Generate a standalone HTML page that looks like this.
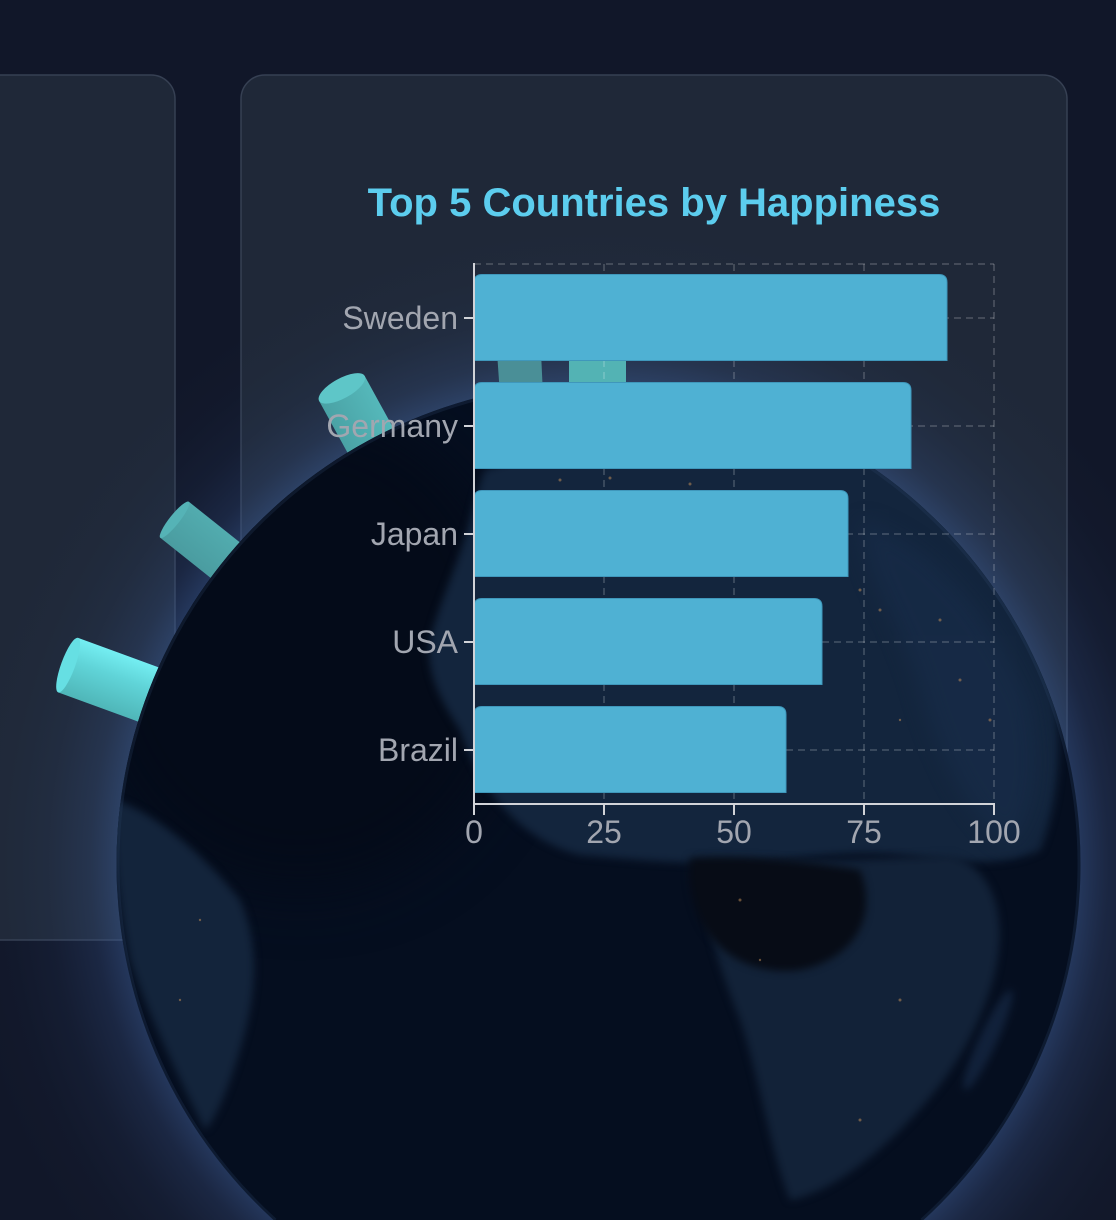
<!DOCTYPE html>
<html><head><meta charset="utf-8">
<style>
html,body{margin:0;padding:0;background:#111729;width:1116px;height:1220px;overflow:hidden;}
svg{display:block}
</style></head>
<body>
<svg width="1116" height="1220" viewBox="0 0 1116 1220" xmlns="http://www.w3.org/2000/svg">
<defs>
  <radialGradient id="glow" cx="598.5" cy="864" r="640" gradientUnits="userSpaceOnUse">
    <stop offset="0.74" stop-color="#3e62a0" stop-opacity="0.5"/>
    <stop offset="0.753" stop-color="#3e62a0" stop-opacity="0.42"/>
    <stop offset="0.795" stop-color="#3a5a95" stop-opacity="0.24"/>
    <stop offset="0.86" stop-color="#36548a" stop-opacity="0.1"/>
    <stop offset="0.93" stop-color="#34507f" stop-opacity="0.03"/>
    <stop offset="1" stop-color="#34507f" stop-opacity="0"/>
  </radialGradient>
  <clipPath id="gc"><path d="M273.5,1220 A482,482 0 1 1 923.5,1220 Z"/></clipPath>
  <filter id="b4" x="-30%" y="-30%" width="160%" height="160%" color-interpolation-filters="sRGB"><feGaussianBlur stdDeviation="4"/></filter>
  <filter id="b10" x="-30%" y="-30%" width="160%" height="160%" color-interpolation-filters="sRGB"><feGaussianBlur stdDeviation="10"/></filter>
  <filter id="b30" x="-50%" y="-50%" width="200%" height="200%" color-interpolation-filters="sRGB"><feGaussianBlur stdDeviation="30"/></filter>
  <linearGradient id="c1" x1="0" y1="0" x2="0" y2="1">
    <stop offset="0" stop-color="#4fb6b8"/>
    <stop offset="0.6" stop-color="#60d4d8"/>
    <stop offset="1" stop-color="#74eef2"/>
  </linearGradient>
  <linearGradient id="c2" x1="0" y1="0" x2="0" y2="1">
    <stop offset="0" stop-color="#4a9ca0"/>
    <stop offset="1" stop-color="#52acaf"/>
  </linearGradient>
  <linearGradient id="c3" x1="0" y1="0" x2="0" y2="1">
    <stop offset="0" stop-color="#4aa2a5"/>
    <stop offset="1" stop-color="#55b8ba"/>
  </linearGradient>
</defs>

<rect x="0" y="0" width="1116" height="1220" fill="#111729"/>

<rect x="-40" y="75" width="215" height="865" rx="24" fill="#1f2838" stroke="#364053" stroke-width="1.5"/>
<rect x="241" y="75" width="826" height="865" rx="24" fill="#1f2838" stroke="#364053" stroke-width="1.5"/>

<rect x="0" y="0" width="1116" height="1220" fill="url(#glow)"/>

<g transform="translate(147,694) rotate(200.1)">
  <rect x="-12" y="-29" width="96" height="58" fill="url(#c1)"/>
  <ellipse cx="84" cy="0" rx="7" ry="29" fill="#66dfe3"/>
</g>
<g transform="translate(227,561.5) rotate(218.5)">
  <rect x="-12" y="-23" width="79" height="46" fill="url(#c2)"/>
  <ellipse cx="67" cy="0" rx="5" ry="23" fill="#55b3b6"/>
</g>
<g transform="translate(376.5,451.5) rotate(241.25)">
  <rect x="-12" y="-26" width="84" height="52" fill="url(#c3)"/>
  <ellipse cx="72" cy="0" rx="10" ry="26" fill="#5ec6c8"/>
</g>
<polygon points="497,352 541,352 543,395 500,395" fill="#4a8f97"/>
<rect x="569" y="352" width="57" height="40" fill="#53b3b4"/>

<g clip-path="url(#gc)">
  <rect x="110" y="375" width="980" height="850" fill="#050e1f"/>
  <ellipse cx="300" cy="650" rx="220" ry="240" fill="#040b19" filter="url(#b30)"/>
  <path d="M485,470 C560,440 700,420 840,450 C940,480 1020,560 1050,660 C1065,740 1060,800 1040,850 C1000,870 950,860 900,855 C850,850 800,858 760,862 C700,866 640,860 580,855 C520,840 480,790 460,730 C440,700 425,670 430,640 C440,600 460,560 470,520 C475,500 480,480 485,470 Z" fill="#13253d" filter="url(#b4)"/>
  <path d="M860,520 C930,540 990,610 1030,700 C1045,770 1035,820 1010,845 C970,820 940,760 920,690 C900,620 860,570 860,520 Z" fill="#172b47" opacity="0.8" filter="url(#b10)"/>
  <path d="M700,858 C760,860 850,862 950,855 C1000,870 1010,930 990,990 C970,1050 940,1090 900,1130 C860,1170 820,1195 790,1200 C770,1150 760,1080 740,1020 C720,970 700,910 700,858 Z" fill="#122238" filter="url(#b4)"/>
  <path d="M690,858 C740,855 800,860 860,870 C880,920 850,960 800,970 C760,975 720,960 700,920 C690,895 688,875 690,858 Z" fill="#070c16" filter="url(#b4)"/>
  <ellipse cx="988" cy="1040" rx="9" ry="55" transform="rotate(25 988 1040)" fill="#11213a" filter="url(#b4)"/>
  <path d="M114,800 C150,810 200,850 240,900 C262,950 255,1000 240,1050 C228,1090 215,1120 205,1130 C180,1080 150,1020 130,960 C118,900 112,850 114,800 Z" fill="#13243b" filter="url(#b4)"/>
  <g fill="#c9935a" opacity="0.5">
    <circle cx="560" cy="480" r="1.5"/><circle cx="610" cy="478" r="1.5"/><circle cx="690" cy="484" r="1.5"/>
    <circle cx="860" cy="590" r="1.5"/><circle cx="880" cy="610" r="1.5"/><circle cx="940" cy="620" r="1.5"/>
    <circle cx="960" cy="680" r="1.5"/><circle cx="990" cy="720" r="1.5"/><circle cx="900" cy="720" r="1.2"/>
    <circle cx="740" cy="900" r="1.5"/><circle cx="760" cy="960" r="1.2"/><circle cx="900" cy="1000" r="1.5"/>
    <circle cx="860" cy="1120" r="1.5"/><circle cx="180" cy="1000" r="1.2"/><circle cx="200" cy="920" r="1.2"/>
  </g>
</g>
<path d="M275.5,1220 A480.5,480.5 0 1 1 921.5,1220" fill="none" stroke="#2a4268" stroke-opacity="0.25" stroke-width="3"/>

<g stroke="#ffffff" stroke-opacity="0.16" stroke-width="2" stroke-dasharray="7 5" fill="none">
  <line x1="474" y1="264" x2="994" y2="264"/>
  <line x1="474" y1="318" x2="994" y2="318"/>
  <line x1="474" y1="426" x2="994" y2="426"/>
  <line x1="474" y1="534" x2="994" y2="534"/>
  <line x1="474" y1="642" x2="994" y2="642"/>
  <line x1="474" y1="750" x2="994" y2="750"/>
  <line x1="604" y1="264" x2="604" y2="804"/>
  <line x1="734" y1="264" x2="734" y2="804"/>
  <line x1="864" y1="264" x2="864" y2="804"/>
  <line x1="994" y1="264" x2="994" y2="804"/>
</g>

<g fill="#4fb1d3" stroke="#3f97bb" stroke-width="1">
  <path d="M474,360.5 L474,282.5 Q474,274.5 482,274.5 L939,274.5 Q947,274.5 947,282.5 L947,360.5 Z"/>
  <path d="M474,468.5 L474,390.5 Q474,382.5 482,382.5 L903,382.5 Q911,382.5 911,390.5 L911,468.5 Z"/>
  <path d="M474,576.5 L474,498.5 Q474,490.5 482,490.5 L840,490.5 Q848,490.5 848,498.5 L848,576.5 Z"/>
  <path d="M474,684.5 L474,606.5 Q474,598.5 482,598.5 L814,598.5 Q822,598.5 822,606.5 L822,684.5 Z"/>
  <path d="M474,792.5 L474,714.5 Q474,706.5 482,706.5 L778,706.5 Q786,706.5 786,714.5 L786,792.5 Z"/>
</g>

<g stroke="#d1d3d8" stroke-width="2" fill="none">
  <line x1="474" y1="263" x2="474" y2="805"/>
  <line x1="473" y1="804" x2="995" y2="804"/>
  <line x1="464" y1="318" x2="474" y2="318"/>
  <line x1="464" y1="426" x2="474" y2="426"/>
  <line x1="464" y1="534" x2="474" y2="534"/>
  <line x1="464" y1="642" x2="474" y2="642"/>
  <line x1="464" y1="750" x2="474" y2="750"/>
  <line x1="474" y1="804" x2="474" y2="815"/>
  <line x1="604" y1="804" x2="604" y2="815"/>
  <line x1="734" y1="804" x2="734" y2="815"/>
  <line x1="864" y1="804" x2="864" y2="815"/>
  <line x1="994" y1="804" x2="994" y2="815"/>
</g>

<g font-family="'Liberation Sans', Arial, sans-serif" font-size="32" fill="#a2a6b0">
  <g text-anchor="end">
    <text x="458" y="329">Sweden</text>
    <text x="458" y="437">Germany</text>
    <text x="458" y="545">Japan</text>
    <text x="458" y="653">USA</text>
    <text x="458" y="761">Brazil</text>
  </g>
  <g text-anchor="middle">
    <text x="474" y="843">0</text>
    <text x="604" y="843">25</text>
    <text x="734" y="843">50</text>
    <text x="864" y="843">75</text>
    <text x="994" y="843">100</text>
  </g>
</g>

<text x="654" y="216" text-anchor="middle" font-family="'Liberation Sans', Arial, sans-serif" font-weight="bold" font-size="40" fill="#5ccdee">Top 5 Countries by Happiness</text>
</svg>
</body></html>
